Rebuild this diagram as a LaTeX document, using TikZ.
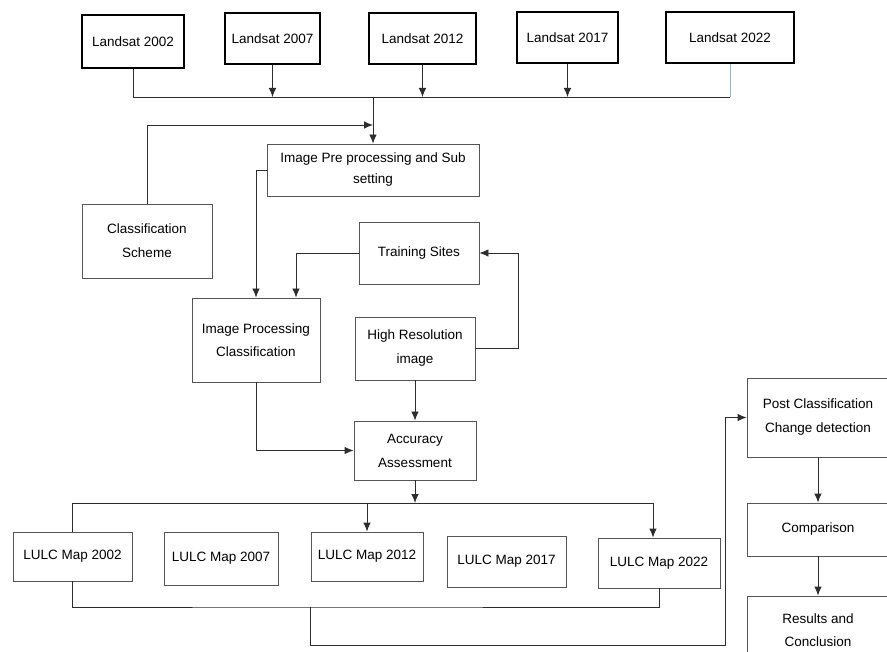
\documentclass[tikz,border=0pt]{standalone}
\usepackage{fontspec}
\setmainfont{Liberation Sans}
\usetikzlibrary{arrows.meta}
\definecolor{boxgray}{RGB}{85,85,85}
\definecolor{linegray}{RGB}{45,45,45}
\definecolor{paleblue}{RGB}{140,182,208}
\tikzset{
  box/.style={draw=boxgray, line width=0.9pt, rectangle, align=center, inner sep=0pt,
    font=\fontsize{13.5}{24}\selectfont},
  topbox/.style={box, draw=black, line width=1.9pt},
  con/.style={draw=linegray, line width=0.9pt},
  arr/.style={con, -{Latex[length=9pt,width=7.5pt]}}
}

\begin{document}
\begin{tikzpicture}[x=1pt, y=-1pt]
      \useasboundingbox (0,0) rectangle (887,652);
      \clip (0,0) rectangle (887,652);

      \node [topbox, minimum width=102pt, minimum height=53pt] (ls02) at (133,41.5) {Landsat 2002};
      \node [topbox, minimum width=95pt, minimum height=51pt] (ls07) at (272.5,38.5) {Landsat 2007};
      \node [topbox, minimum width=107pt, minimum height=51pt] (ls12) at (422.5,38.5) {Landsat 2012};
      \node [topbox, minimum width=101pt, minimum height=51pt] (ls17) at (567.5,37.5) {Landsat 2017};
      \node [topbox, minimum width=128pt, minimum height=51pt] (ls22) at (730,37.5) {Landsat 2022};

      \node [box, minimum width=212pt, minimum height=52pt] (pre) at (373,170) {Image Pre processing and Sub\\[-3pt]setting};
      \node [box, minimum width=130pt, minimum height=74pt] (cls) at (147,241) {Classification\\Scheme};
      \node [box, minimum width=120pt, minimum height=62pt] (ts) at (419,253) {Training Sites};
      \node [box, minimum width=128pt, minimum height=84pt] (ipc) at (256,340) {Image Processing\\[-1pt]Classification};
      \node [box, minimum width=120pt, minimum height=63pt] (hr) at (415,348.5) {High Resolution\\image};
      \node [box, minimum width=122pt, minimum height=59pt] (acc) at (415,450.5) {Accuracy\\Assessment};

      \node [box, minimum width=119pt, minimum height=49pt] (m02) at (72.5,556.5) {LULC Map 2002};
      \node [box, minimum width=114pt, minimum height=53pt] (m07) at (221,558.5) {LULC Map 2007};
      \node [box, minimum width=112pt, minimum height=49pt] (m12) at (367,556.5) {LULC Map 2012};
      \node [box, minimum width=119pt, minimum height=51pt] (m17) at (506.5,561.5) {LULC Map 2017};
      \node [box, minimum width=122pt, minimum height=50pt] (m22) at (659,563) {LULC Map 2022};

      \node [box, minimum width=142pt, minimum height=79pt] (post) at (818,417.5) {Post Classification\\Change detection};
      \node [box, minimum width=142pt, minimum height=53pt] (cmp) at (818,529.5) {Comparison};
      \node [box, minimum width=142pt, minimum height=68pt] (res) at (818,630) {Results and\\[-1pt]Conclusion};

      \coordinate (busT) at (373,97);
      \coordinate (join) at (373,125);
      \coordinate (busM) at (415,503);
      \coordinate (busB) at (310,607);

      \draw [con] (ls02.south) |- (ls22.south |- busT);
      \draw [con, draw=paleblue] (ls22.south) -- (ls22.south |- busT);
      \draw [arr] (ls07.south) -- (ls07.south |- busT);
      \draw [arr] (ls12.south) -- (ls12.south |- busT);
      \draw [arr] (ls17.south) -- (ls17.south |- busT);
      \draw [arr] (busT) -- (pre.north);
      \draw [arr] (cls.north) |- (join);

      \draw [arr] (pre.west) -| (ipc.north);
      \draw [arr] (ts.west) -| ([xshift=40pt]ipc.north);
      \draw [arr] (hr.east) -- ++(43,0) |- (ts.east);
      \draw [arr] (hr) -- (acc);
      \draw [arr] (ipc.south) |- (acc.west);

      \draw [arr] (acc.south) -- (busM);
      \draw [con] (m02.north) |- ([xshift=-6pt]m22.north |- busM);
      \draw [arr] ([xshift=-6pt]m22.north |- busM) -- ([xshift=-6pt]m22.north);
      \draw [arr] (m12.north |- busM) -- (m12.north);

      \draw [con] (m02.south) |- (busB) -| (m22.south);
      \draw [arr] (busB) -- ++(0,38) -| ([xshift=-21pt]post.west) -- (post.west);

      \draw [arr] (post) -- (cmp);
      \draw [arr] (cmp) -- (res);
    \end{tikzpicture}
\end{document}
